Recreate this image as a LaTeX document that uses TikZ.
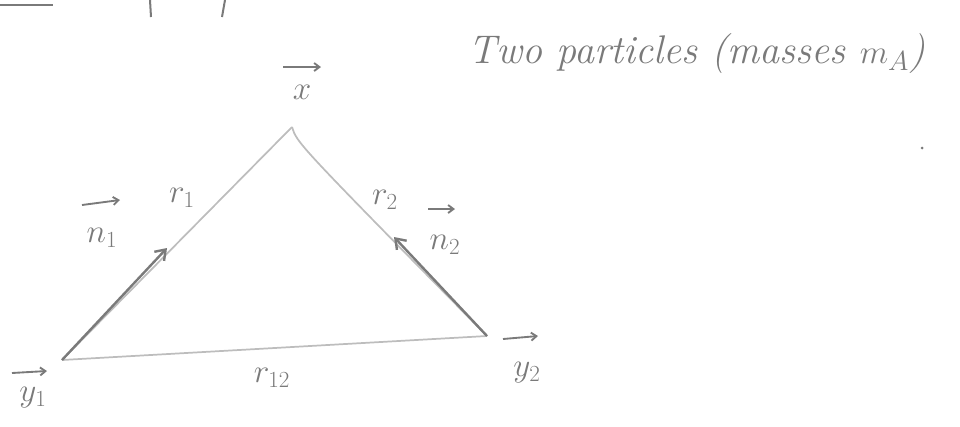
\documentclass[tikz,border=0pt]{standalone}
\usetikzlibrary{arrows.meta}
\definecolor{ink}{gray}{0.48}
\definecolor{faint}{gray}{0.74}
\begin{document}
\begin{tikzpicture}[x=0.75pt,y=-0.75pt,
  side/.style={draw=faint, line width=1.3pt},
  unitvec/.style={draw=ink, line width=1.8pt, -{Straight Barb[length=7pt,width=10pt]}},
  vecbar/.style={draw=ink, line width=1.4pt, -{Straight Barb[length=4pt,width=6pt]}},
  scrap/.style={draw=ink, line width=1.5pt},
  lbl/.style={text=ink, inner sep=0pt, font=\fontsize{27}{29}\selectfont},
  title/.style={text=ink, inner sep=0pt, anchor=base west, font=\fontsize{30}{32}\selectfont\itshape}]
\useasboundingbox (0,0) rectangle (960,426);
% vertices
\coordinate (X) at (292,127);
\coordinate (Y1) at (62,360);
\coordinate (Y2) at (487,336);
\coordinate (N1tip) at (167,248);
\coordinate (N2tip) at (394,237);
% triangle sides
\draw[side] (Y1) -- (X);
\draw[side] (X) .. controls (297,143) .. (Y2);
\draw[side] (Y1) -- (Y2);
% unit vectors
\draw[unitvec] (Y1) -- (N1tip);
\draw[unitvec] (Y2) -- (N2tip);
% labels
\node[lbl] (xl) at (302,92) {$x$};
\draw[vecbar] ([shift={(-19,-25)}]xl.center) -- ++(38,0);
\node[lbl] (r1) at (182,198) {$r_1$};
\node[lbl] (r2) at (385,200) {$r_2$};
\node[lbl] (r12) at (272,378) {$r_{12}$};
\node[lbl] (n1) at (102,238) {$n_1$};
\draw[vecbar] ([shift={(-20,-33)}]n1.center) -- ++(38,-5);
\node[lbl] (n2) at (445,245) {$n_2$};
\draw[vecbar] ([shift={(-17,-36)}]n2.center) -- ++(27,0);
\node[lbl] (y1) at (33,398) {$y_1$};
\draw[vecbar] ([shift={(-21,-25)}]y1.center) -- ++(35,-2);
\node[lbl] (y2) at (527,373) {$y_2$};
\draw[vecbar] ([shift={(-24,-34)}]y2.center) -- ++(35,-3);
% title
\node[title] (ttl) at (468,63) {Two particles (masses $m_A$)};
% scraps of text cut off at the top edge
\draw[scrap] (0,5) -- (53,5);
\draw[scrap] (150,0) -- (151,17);
\draw[scrap] (225,0) -- (222,17);
\fill[ink] (922,148) circle (1.5);
\end{tikzpicture}
\end{document}
